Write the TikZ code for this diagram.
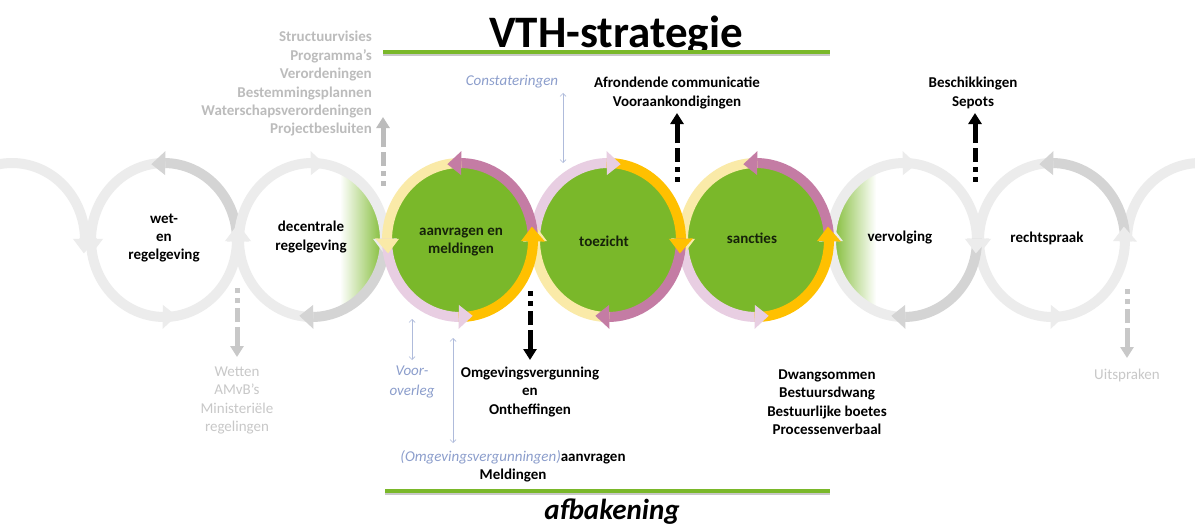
\documentclass[tikz,border=0pt]{standalone}
\usepackage{fontspec}
\setmainfont{Carlito}
\usetikzlibrary{arrows.meta}
\definecolor{vgreen}{RGB}{122,184,42}
\definecolor{vorange}{RGB}{255,192,0}
\definecolor{vmauve}{RGB}{196,124,164}
\definecolor{vpink}{RGB}{232,206,226}
\definecolor{vyellow}{RGB}{250,234,168}
\definecolor{gdark}{RGB}{212,212,212}
\definecolor{glight}{RGB}{236,236,236}
\definecolor{gtext}{RGB}{188,188,188}
\definecolor{gtextl}{RGB}{200,200,200}
\definecolor{btext}{RGB}{140,158,204}
\definecolor{darktext}{RGB}{22,34,10}
\definecolor{shadowc}{RGB}{200,200,200}
\tikzset{
  ringbody/.style={line width=10pt},
  lbl/.style={font=\fontsize{15}{18.4}\selectfont\bfseries, align=center, inner sep=0pt},
  lblreg/.style={font=\fontsize{15}{18.4}\selectfont, align=center, inner sep=0pt},
  greenline/.style={draw=vgreen, line width=4pt},
  shadowline/.style={draw=shadowc, line width=3pt},
  barseg/.style={line width=5pt},
  barhead/.style={line width=5pt, -{Triangle[width=13pt,length=11pt]}},
  thinar/.style={draw=btext!70, line width=0.7pt, {Straight Barb[length=3pt,width=6pt]}-{Straight Barb[length=3pt,width=6pt]}}
}
% body of a ring segment: cx, cy, start, end, colour
\newcommand\segbody[5]{\draw[ringbody,#5,shift={(#1,-#2)}] (#3:73pt and 77pt) arc[start angle=#3,end angle=#4,x radius=73pt,y radius=77pt];}
% head of a ring segment: cx, cy, tip angle, base angle, colour
\newcommand\seghead[5]{\fill[#5,shift={(#1,-#2)}] (#4:61pt and 65pt) -- (#4:85pt and 89pt) -- (#3:73pt and 77pt) -- cycle;}
% counter-clockwise ring: cx cy mauve yellow pink orange
\newcommand\ccwring[6]{%
  \segbody{#1}{#2}{-1}{91}{#3}\segbody{#1}{#2}{89}{181}{#4}%
  \segbody{#1}{#2}{179}{271}{#5}\segbody{#1}{#2}{269}{361}{#6}%
  \seghead{#1}{#2}{100}{89}{#3}\seghead{#1}{#2}{190}{179}{#4}%
  \seghead{#1}{#2}{280}{269}{#5}\seghead{#1}{#2}{370}{359}{#6}}
% clockwise ring: cx cy pink orange mauve yellow
\newcommand\cwring[6]{%
  \segbody{#1}{#2}{181}{89}{#3}\segbody{#1}{#2}{91}{-1}{#4}%
  \segbody{#1}{#2}{1}{-91}{#5}\segbody{#1}{#2}{-89}{-181}{#6}%
  \seghead{#1}{#2}{80}{91}{#3}\seghead{#1}{#2}{-10}{1}{#4}%
  \seghead{#1}{#2}{-100}{-89}{#5}\seghead{#1}{#2}{-190}{-179}{#6}}
% dashed up arrow: x, tip y (px), colour
\newcommand\uparr[3]{%
  \draw[barhead,#3] (#1,-#2-30) -- (#1,-#2);
  \draw[barseg,#3] (#1,-#2-35) -- (#1,-#2-49);
  \draw[barseg,#3] (#1,-#2-54) -- (#1,-#2-59);
  \draw[barseg,#3] (#1,-#2-64) -- (#1,-#2-69);}
\newcommand\downarr[3]{%
  \draw[barhead,#3] (#1,-#2+30) -- (#1,-#2);
  \draw[barseg,#3] (#1,-#2+35) -- (#1,-#2+49);
  \draw[barseg,#3] (#1,-#2+54) -- (#1,-#2+59);
  \draw[barseg,#3] (#1,-#2+64) -- (#1,-#2+69);}
\begin{document}
\begin{tikzpicture}[x=1pt,y=1pt]
\useasboundingbox (0,0) rectangle (1195,-527);
\fill[white] (0,0) rectangle (1195,-527);

% green fills
\fill[vgreen] (460,-240) ellipse [x radius=70pt, y radius=74pt];
\fill[vgreen] (608,-240) ellipse [x radius=70pt, y radius=74pt];
\fill[vgreen] (756,-240) ellipse [x radius=70pt, y radius=74pt];
\begin{scope}
  \clip (312,-240) ellipse [x radius=72pt, y radius=76pt];
  \shade[left color=white, right color=vgreen] (340,-150) rectangle (386,-330);
\end{scope}
\begin{scope}
  \clip (904,-240) ellipse [x radius=72pt, y radius=76pt];
  \shade[left color=vgreen, right color=white] (830,-150) rectangle (876,-330);
\end{scope}

% partial rings at the edges
\segbody{12}{240}{100}{-1}{glight}\seghead{12}{240}{-10}{1}{glight}
\segbody{1200}{240}{181}{89}{glight}\seghead{1200}{240}{80}{91}{glight}
% grey rings
\ccwring{164}{240}{gdark}{glight}{glight}{glight}
\cwring{312}{240}{glight}{glight}{gdark}{glight}
\ccwring{1052}{240}{gdark}{glight}{glight}{glight}
\cwring{904}{240}{glight}{glight}{gdark}{glight}
% coloured rings
\ccwring{756}{240}{vmauve}{vyellow}{vpink}{vorange}
\cwring{608}{240}{vpink}{vorange}{vmauve}{vyellow}
\ccwring{460}{240}{vmauve}{vyellow}{vpink}{vorange}

% circle labels
\node[lbl] (wet) at (164,-238) {wet-\\en\\regelgeving};
\node[lbl] (dec) at (311,-237) {decentrale\\regelgeving};
\node[lbl, text=darktext] (aan) at (461,-242) {aanvragen en\\meldingen};
\node[lbl, text=darktext] (toe) at (604,-241) {toezicht};
\node[lbl, text=darktext] (san) at (752,-238) {sancties};
\node[lbl] (ver) at (900,-238) {vervolging};
\node[lbl] (rec) at (1047,-238) {rechtspraak};

% title and lines
\node[inner sep=0pt, font=\fontsize{45}{50}\selectfont\bfseries] (title) at (616,-36) {VTH-strategie};
\coordinate (tl1) at (383,-52); \coordinate (tl2) at (830,-52);
\draw[shadowline] ([yshift=-2.5pt]tl1) -- ([yshift=-2.5pt]tl2);
\draw[greenline] (tl1) -- (tl2);
\coordinate (bl1) at (385,-491); \coordinate (bl2) at (830,-491);
\draw[shadowline] ([yshift=-2.5pt]bl1) -- ([yshift=-2.5pt]bl2);
\draw[greenline] (bl1) -- (bl2);
\node[inner sep=0pt, font=\fontsize{29}{32}\selectfont\bfseries\itshape] (afb) at (612,-512) {afbakening};

% texts
\node[lbl, text=gtext, anchor=east, align=right] (plans) at (372,-84)
  {Structuurvisies\\Programma’s\\Verordeningen\\Bestemmingsplannen\\Waterschapsverordeningen\\Projectbesluiten};
\node[lblreg, text=gtextl] (wetten) at (237,-400.5) {Wetten\\AMvB’s\\Ministeriële\\regelingen};
\node[lblreg, text=gtextl] (uit) at (1127,-375) {Uitspraken};
\node[lbl] (dwang) at (827,-402) {Dwangsommen\\Bestuursdwang\\Bestuurlijke boetes\\Processenverbaal};
\node[lbl] (omg) at (530,-392) {Omgevingsvergunning\\en\\Ontheffingen};
\node[lblreg, text=btext, font=\fontsize{15}{20}\selectfont\itshape] (voor) at (412,-382) {Voor-\\overleg};
\node[lbl] (aanvr) at (513,-466) {{\normalfont\itshape\color{btext}(Omgevingsvergunningen)}aanvragen\\Meldingen};
\node[lblreg, text=btext, font=\fontsize{15}{18.4}\selectfont\itshape] (const) at (512,-82) {Constateringen};
\node[lbl] (afr) at (677,-93) {Afrondende communicatie\\Vooraankondigingen};
\node[lbl] (besch) at (973,-93) {Beschikkingen\\Sepots};

% thin double arrows
\coordinate (c1) at (563,-93); \coordinate (c2) at (563,-163);
\draw[thinar] (c1) -- (c2);
\coordinate (v1) at (412,-319); \coordinate (v2) at (412,-360);
\draw[thinar] (v1) -- (v2);
\coordinate (o1) at (453,-338); \coordinate (o2) at (453,-443);
\draw[thinar] (o1) -- (o2);

% dashed block arrows
\uparr{677}{113}{black}
\uparr{975}{113}{black}
\downarr{530}{360}{black}
\uparr{383}{117}{gtext}
\downarr{237}{357}{gtextl}
\downarr{1127}{358}{gtextl}
\end{tikzpicture}
\end{document}
